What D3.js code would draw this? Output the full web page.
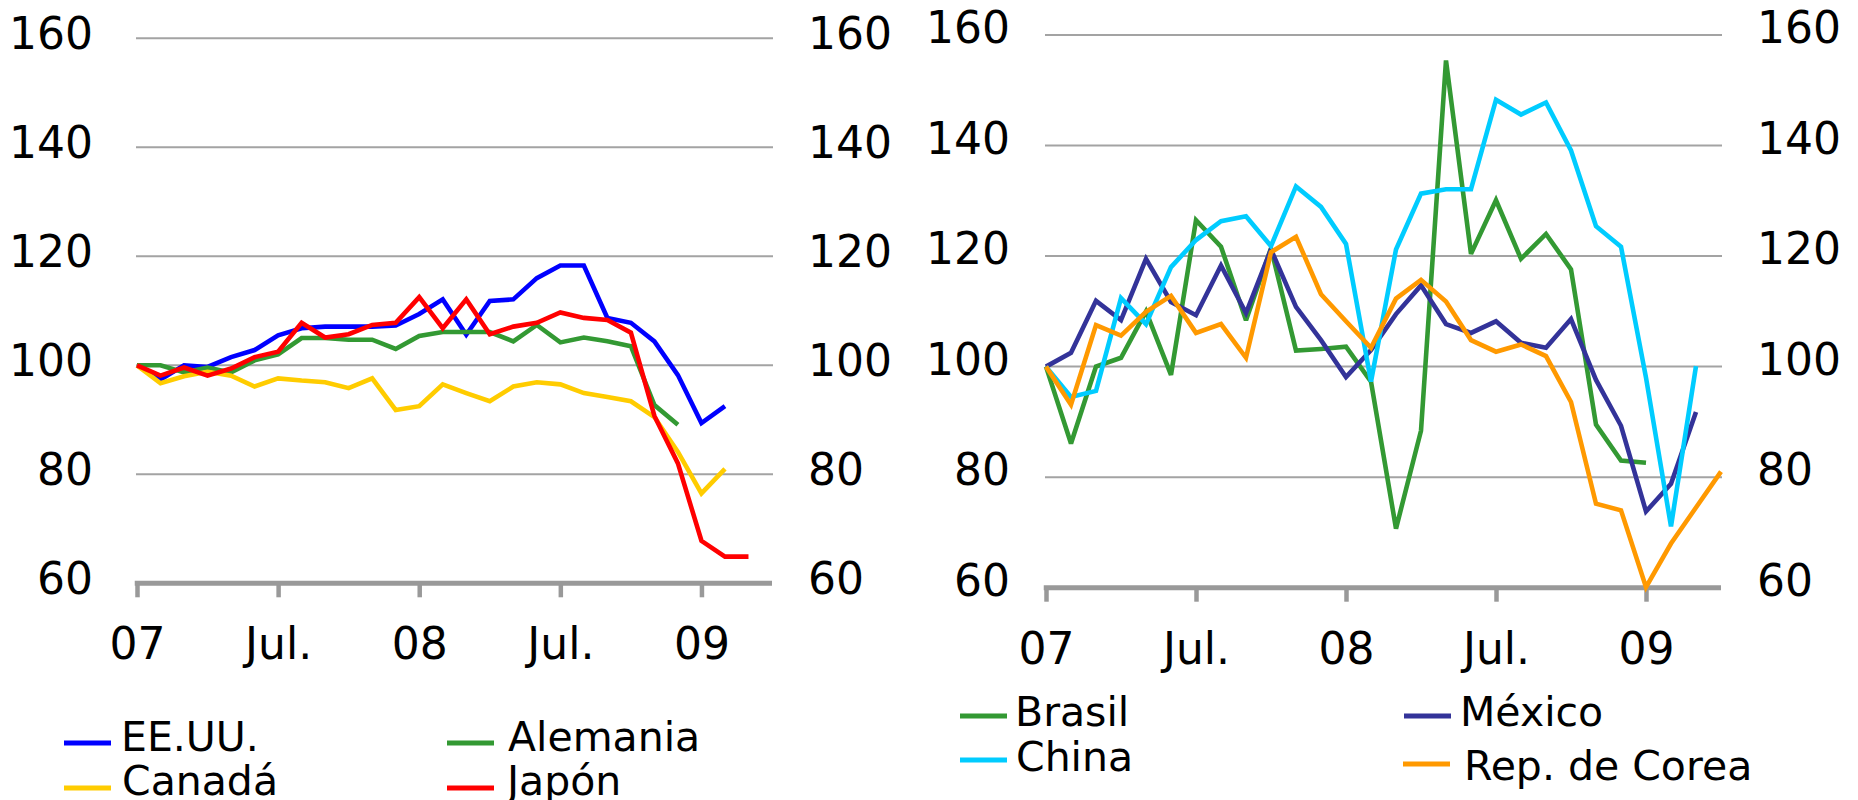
<!DOCTYPE html>
<html><head><meta charset="utf-8">
<script src="https://cdn.jsdelivr.net/npm/d3@7"></script>
<style>
body{margin:0;background:#fff}
svg{display:block}
text{font-family:"DejaVu Sans",Verdana,sans-serif;fill:#000}
</style>
</head><body>
<svg id="c" width="1858" height="800"></svg>
<script>
// ---- data ----
const xTickValues = [0, 6, 12, 18, 24];
const xTickLabels = ["07", "Jul.", "08", "Jul.", "09"];
const yTickValues = [60, 80, 100, 120, 140, 160];
const monthsSpan = 27;

const leftNames = ["EE.UU.", "Alemania", "Canadá", "Japón"];
const usa     = [100, 97.4, 100, 99.7, 101.5, 102.8, 105.5, 106.8, 107.1, 107.1, 107.1, 107.3, 109.4, 112.1, 105.6, 111.8, 112.1, 116, 118.3, 118.3, 108.7, 107.8, 104.4, 98.2, 89.4, 92.5];
const germany = [100, 100, 98.7, 99.6, 98.7, 100.9, 102, 105, 105, 104.7, 104.7, 103, 105.4, 106.1, 106.1, 106.1, 104.4, 107.4, 104.2, 105.1, 104.4, 103.5, 92.7, 89.1];
const canada  = [100, 96.7, 98, 98.8, 98.1, 96.1, 97.6, 97.2, 96.9, 95.8, 97.6, 91.8, 92.5, 96.5, 94.9, 93.4, 96.1, 96.9, 96.5, 94.9, 94.2, 93.4, 90.5, 84.1, 76.5, 81];
const japan   = [100, 98.1, 99.6, 98.1, 99.4, 101.5, 102.5, 107.8, 105.1, 105.7, 107.4, 107.8, 112.5, 106.8, 112.1, 105.7, 107.1, 107.8, 109.7, 108.7, 108.3, 106, 90.7, 82, 67.8, 64.9, 64.9];

const rightNames = ["Brasil", "México", "China", "Rep. de Corea"];
const brasil = [100, 86.1, 100, 101.6, 110, 98.5, 126.5, 121.7, 108.4, 121.4, 102.9, 103.2, 103.6, 97.3, 70.7, 88.4, 155.4, 120.4, 130.1, 119.5, 124, 117.6, 89.5, 83, 82.6];
const mexico = [100, 102.5, 111.9, 108.4, 119.5, 111.7, 109.3, 118.3, 109.7, 121.2, 110.8, 104.8, 98.1, 103, 109.5, 114.7, 107.7, 106.1, 108.2, 104.3, 103.4, 108.6, 97.6, 89.3, 73.8, 78.8, 91.8];
const china  = [100, 94.5, 95.6, 112.4, 107.7, 118, 122.9, 126.3, 127.2, 121.8, 132.6, 128.9, 122.2, 97.3, 121.2, 131.3, 132.1, 132.1, 148.3, 145.6, 147.8, 139.1, 125.4, 121.7, 98, 71.1, 100.1];
const korea  = [100, 93.1, 107.5, 105.6, 109.9, 112.8, 106.1, 107.7, 101.6, 120.7, 123.5, 113.1, 108.2, 103.4, 112.3, 115.7, 111.8, 104.8, 102.7, 104, 101.9, 93.6, 75.2, 74, 60.1, 68, 74.5, 81];

// ---- layout ----
const svg = d3.select("#c");
const panels = [
  {
    xr: [137, 772], yr: [583.3, 38.3],
    leftLabelX: 93, rightLabelX: 808, labelDy: 9.7, xLabelY: 76,
    series: [
      {name: leftNames[0], values: usa, color: "#0000ff"},
      {name: leftNames[1], values: germany, color: "#339933"},
      {name: leftNames[2], values: canada, color: "#ffcc00"},
      {name: leftNames[3], values: japan, color: "#ff0000"}
    ],
    legend: [
      {i: 0, lx: 64, ly: 743, tx: 121, ty: 751},
      {i: 1, lx: 447, ly: 743, tx: 508, ty: 751},
      {i: 2, lx: 64, ly: 788, tx: 122, ty: 795},
      {i: 3, lx: 447, ly: 788, tx: 507, ty: 795}
    ]
  },
  {
    xr: [1046, 1721], yr: [587.7, 35],
    leftLabelX: 1010, rightLabelX: 1757, labelDy: 7.5, xLabelY: 76.3,
    series: [
      {name: rightNames[0], values: brasil, color: "#339933"},
      {name: rightNames[1], values: mexico, color: "#333399"},
      {name: rightNames[2], values: china, color: "#00ccff"},
      {name: rightNames[3], values: korea, color: "#ff9900"}
    ],
    legend: [
      {i: 0, lx: 960, ly: 716, tx: 1015, ty: 726},
      {i: 1, lx: 1404, ly: 716, tx: 1460, ty: 726},
      {i: 2, lx: 960, ly: 760, tx: 1016, ty: 771},
      {i: 3, lx: 1403, ly: 764, tx: 1464, ty: 780}
    ]
  }
];

panels.forEach(p => {
  const x = d3.scaleLinear().domain([0, monthsSpan]).range(p.xr);
  const y = d3.scaleLinear().domain([60, 160]).range(p.yr);
  const g = svg.append("g");

  // gridlines
  g.selectAll("line.grid").data(yTickValues.filter(v => v > 60)).join("line")
    .attr("class", "grid")
    .attr("x1", x(0) - 1).attr("x2", x(monthsSpan) + 1)
    .attr("y1", d => y(d)).attr("y2", d => y(d))
    .attr("stroke", "#a3a3a3").attr("stroke-width", 2);

  // y labels (both sides)
  const yl = d3.axisLeft(y).tickValues(yTickValues).tickSize(0).tickPadding(0);
  const ga = g.append("g").attr("transform", `translate(${p.leftLabelX},0)`).call(yl);
  const yr = d3.axisRight(y).tickValues(yTickValues).tickSize(0).tickPadding(0);
  const gb = g.append("g").attr("transform", `translate(${p.rightLabelX},0)`).call(yr);
  [ga, gb].forEach(a => {
    a.select(".domain").remove();
    a.selectAll("text").attr("dy", p.labelDy).attr("x", 0)
      .style("font-size", "44px").attr("fill", "#000");
    a.attr("font-family", null).attr("font-size", null);
  });

  // x axis
  const xa = d3.axisBottom(x).tickValues(xTickValues)
    .tickFormat((d, i) => xTickLabels[i]).tickSize(14).tickSizeOuter(0);
  const gx = g.append("g").attr("transform", `translate(0,${y(60)})`).call(xa);
  gx.attr("font-family", null).attr("font-size", null);
  gx.select(".domain").remove();
  gx.selectAll(".tick line").attr("stroke", "#999").attr("stroke-width", 4.5);
  gx.selectAll(".tick text").attr("y", p.xLabelY).attr("dy", 0)
    .style("font-size", "44px").attr("fill", "#000");
  gx.append("line")
    .attr("x1", x(0) - 2.25).attr("x2", x(monthsSpan))
    .attr("y1", 0).attr("y2", 0)
    .attr("stroke", "#999").attr("stroke-width", 5);

  // series
  const line = d3.line().x((d, i) => x(i)).y(d => y(d));
  p.series.forEach(s => {
    g.append("path").datum(s.values)
      .attr("d", line)
      .attr("fill", "none")
      .attr("stroke", s.color)
      .attr("stroke-width", 4.6)
      .attr("stroke-linejoin", "miter")
      .attr("stroke-miterlimit", 3);
  });

  // legend
  p.legend.forEach(l => {
    const s = p.series[l.i];
    g.append("line")
      .attr("x1", l.lx).attr("x2", l.lx + 47)
      .attr("y1", l.ly).attr("y2", l.ly)
      .attr("stroke", s.color).attr("stroke-width", 5);
    g.append("text").attr("x", l.tx).attr("y", l.ty)
      .style("font-size", "41px").text(s.name);
  });
});
</script>
</body></html>
